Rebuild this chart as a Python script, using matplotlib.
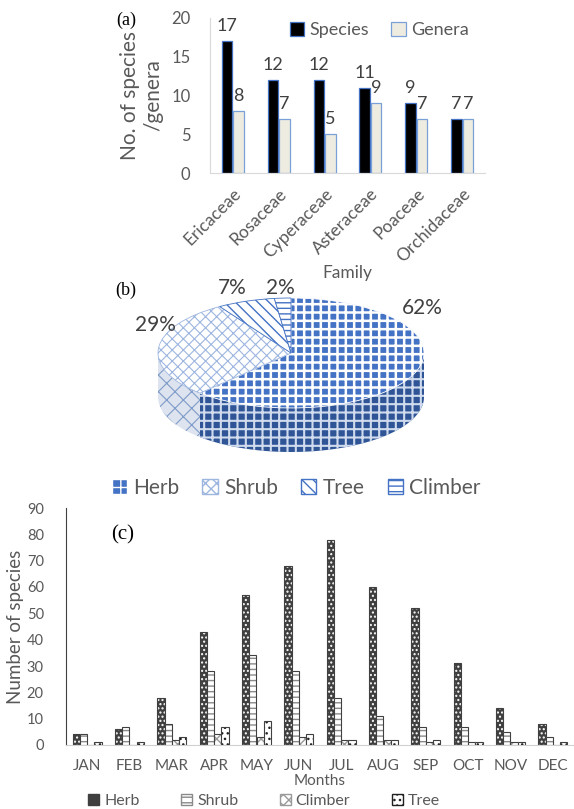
import numpy as np
import matplotlib.pyplot as plt
from matplotlib.patches import Patch, Polygon

plt.rcParams['font.family'] = ['Lato', 'DejaVu Sans']
plt.rcParams['hatch.linewidth'] = 1.0

GREY = '#595959'
SERIF = ['Liberation Serif', 'DejaVu Serif']

# (a) families
families = ["Ericaceae", "Rosaceae", "Cyperaceae", "Asteraceae", "Poaceae", "Orchidaceae"]
species_counts = [17, 12, 12, 11, 9, 7]
genera_counts = [8, 7, 5, 9, 7, 7]

# (b) growth habit share (%)
habit_labels = ["Herb", "Shrub", "Tree", "Climber"]
habit_percent = [62, 29, 7, 2]

# (c) species flowering per month
months = ["JAN", "FEB", "MAR", "APR", "MAY", "JUN",
          "JUL", "AUG", "SEP", "OCT", "NOV", "DEC"]
herb = [4, 6, 18, 43, 57, 68, 78, 60, 52, 31, 14, 8]
shrub = [4, 7, 8, 28, 34, 28, 18, 11, 7, 7, 5, 3]
climber = [0, 0, 2, 4, 3, 3, 2, 2, 1, 1, 1, 0]
tree = [1, 1, 3, 7, 9, 4, 2, 2, 2, 1, 1, 1]

W_PX, H_PX = 574, 809


def px_rect(left, top, right, bottom):
    return [left / W_PX, 1 - bottom / H_PX, (right - left) / W_PX, (bottom - top) / H_PX]


def set_hlw(patch, lw):
    if hasattr(patch, 'set_hatch_linewidth'):
        patch.set_hatch_linewidth(lw)


fig = plt.figure(figsize=(W_PX / 100, H_PX / 100), dpi=100)

# ---------------- (a) ----------------
ax_a = fig.add_axes(px_rect(210, 18, 485, 173))
x_a = np.arange(len(families))
bw = 0.23
sp = ax_a.bar(x_a - 0.125, species_counts, bw, color='black',
              edgecolor='#4472c4', lw=0.9, label='Species')
ge = ax_a.bar(x_a + 0.125, genera_counts, bw, color='#eeece1',
              edgecolor='#7aa0d8', lw=0.9, label='Genera')
ax_a.bar_label(sp, fontsize=13, color='#404040', padding=5)
ax_a.bar_label(ge, fontsize=13, color='#404040', padding=5)
ax_a.set_xlim(-0.5, len(families) - 0.5)
ax_a.set_ylim(0, 20)
ax_a.set_yticks(range(0, 21, 5))
ax_a.set_xticks(x_a, families, rotation=45, ha='right', rotation_mode='anchor')
ax_a.tick_params(length=0, colors=GREY, labelsize=12)
ax_a.tick_params(axis='x', labelsize=12.5, pad=9)
ax_a.tick_params(axis='y', pad=14)
for side in ('top', 'right'):
    ax_a.spines[side].set_visible(False)
for side in ('left', 'bottom'):
    ax_a.spines[side].set_color('#d9d9d9')
ax_a.set_ylabel("No. of species\n/genera", fontsize=15, color=GREY, labelpad=6)
ax_a.set_xlabel("Family", fontsize=12.5, color=GREY, labelpad=0)
ax_a.legend(loc='upper right', bbox_to_anchor=(1.0, 1.08), ncol=2, frameon=False,
            fontsize=13, handlelength=0.8, handleheight=0.8, handletextpad=0.3,
            columnspacing=1.2, labelcolor=GREY)
fig.text(126 / W_PX, 1 - 20 / H_PX, "(a)", family=SERIF, fontsize=13,
         ha='center', va='center')

# ---------------- (b) ----------------
ax_b = fig.add_axes(px_rect(158, 290, 424, 460))
top_style = {
    "Herb": dict(face='#4472c4', hatch='++', hc='white', hlw=1.8),
    "Shrub": dict(face='white', hatch='xxx', hc='#9db6e0', hlw=0.8),
    "Tree": dict(face='white', hatch='\\\\\\', hc='#4472c4', hlw=1.0),
    "Climber": dict(face='white', hatch='---', hc='#4472c4', hlw=1.0),
}
side_style = {
    "Herb": dict(face='#2f5597', hatch='++', hc='#d0dbee', hlw=1.5),
    "Shrub": dict(face='#dde4f0', hatch='xx', hc='#7f9bc8', hlw=0.8),
    "Tree": dict(face='#9fb4d8', hatch='', hc='#4472c4', hlw=1.0),
    "Climber": dict(face='#9fb4d8', hatch='', hc='#4472c4', hlw=1.0),
}
wedges, _ = ax_b.pie(habit_percent, startangle=90, counterclock=False, radius=1.0,
                     wedgeprops=dict(linewidth=0.6))
depth = 0.8
for w, name in zip(wedges, habit_labels):
    st = top_style[name]
    w.set_facecolor(st['face'])
    w.set_edgecolor(st['hc'])
    w.set_hatch(st['hatch'])
    set_hlw(w, st['hlw'])
    w.set_zorder(2)
    # visible front part of the cylinder side
    t1, t2 = w.theta1, w.theta2
    lo, hi = max(t1, 180), min(t2, 360)
    lo2, hi2 = max(t1, -180), min(t2, 0)
    for a, b in ((lo, hi), (lo2, hi2)):
        if b <= a:
            continue
        t = np.radians(np.linspace(a, b, 80))
        top = np.column_stack([np.cos(t), np.sin(t)])
        bot = np.column_stack([np.cos(t[::-1]), np.sin(t[::-1]) - depth])
        ss = side_style[name]
        poly = Polygon(np.vstack([top, bot]), closed=True, facecolor=ss['face'],
                       edgecolor=ss['hc'], hatch=ss['hatch'], lw=0, zorder=1)
        set_hlw(poly, ss['hlw'])
        ax_b.add_patch(poly)
ax_b.set_aspect('auto')
ax_b.set_xlim(-1.0, 1.0)
ax_b.set_ylim(-(460 - 353) / 55, (353 - 290) / 55)

pct_pos = [(0.99, 0.82), (-1.02, 0.51), (-0.44, 1.18), (-0.08, 1.18)]
for (px, py), p in zip(pct_pos, habit_percent):
    ax_b.text(px, py, f"{p}%", fontsize=15, color='#404040', ha='center', va='center')

pie_handles = [Patch(facecolor=top_style[n]['face'], edgecolor=top_style[n]['hc'],
                     hatch=top_style[n]['hatch'], label=n) for n in habit_labels]
fig.legend(handles=pie_handles, loc='center', bbox_to_anchor=(296 / W_PX, 1 - 488 / H_PX),
           ncol=4, frameon=False, fontsize=15, handlelength=0.75, handleheight=0.75,
           handletextpad=0.3, columnspacing=1.1, labelcolor=GREY)
fig.text(126 / W_PX, 1 - 290 / H_PX, "(b)", family=SERIF, fontsize=13,
         ha='center', va='center')

# ---------------- (c) ----------------
ax_c = fig.add_axes(px_rect(66, 508, 574, 745))
x_c = np.arange(len(months))
bw_c = 0.172
bar_style = {
    "Herb": dict(face='#3f3f3f', hatch='....', hc='white'),
    "Shrub": dict(face='white', hatch='---', hc='#8a8a8a'),
    "Climber": dict(face='white', hatch='xxx', hc='#9a9a9a'),
    "Tree": dict(face='white', hatch='...', hc='#202020'),
}
series = [("Herb", herb), ("Shrub", shrub), ("Climber", climber), ("Tree", tree)]
for i, (name, vals) in enumerate(series):
    st = bar_style[name]
    xs = x_c + (i - 1.5) * bw_c
    ax_c.bar(xs, vals, bw_c, color=st['face'], edgecolor=st['hc'], hatch=st['hatch'], lw=0)
    ax_c.bar(xs, vals, bw_c, fill=False, edgecolor='#404040', lw=0.8)
ax_c.set_xlim(-0.5, len(months) - 0.5)
ax_c.set_ylim(0, 90)
ax_c.set_yticks(range(0, 91, 10))
ax_c.set_xticks(x_c, months)
ax_c.tick_params(length=0, colors=GREY, labelsize=10.5)
ax_c.tick_params(axis='x', labelsize=11, pad=10)
ax_c.tick_params(axis='y', pad=16)
for side in ('top', 'right'):
    ax_c.spines[side].set_visible(False)
ax_c.spines['left'].set_color('#404040')
ax_c.spines['bottom'].set_color('#d0d0d0')
ax_c.set_ylabel("Number of species", fontsize=13.5, color=GREY, labelpad=2)
ax_c.set_xlabel("Months", fontsize=11, color=GREY, labelpad=1)
bar_handles = [Patch(facecolor=bar_style[n]['face'],
                     edgecolor=bar_style[n]['hc'] if n != "Herb" else '#3f3f3f',
                     hatch=bar_style[n]['hatch'], label=n) for n, _ in series]
fig.legend(handles=bar_handles, loc='center', bbox_to_anchor=(264 / W_PX, 1 - 801 / H_PX),
           ncol=4, frameon=False, fontsize=11.5, handlelength=0.7, handleheight=0.7,
           handletextpad=0.3, columnspacing=2.6, labelcolor=GREY)
fig.text(123 / W_PX, 1 - 535 / H_PX, "(c)", family=SERIF, fontsize=15,
         ha='center', va='center')

fig.savefig("out.png", dpi=100)
